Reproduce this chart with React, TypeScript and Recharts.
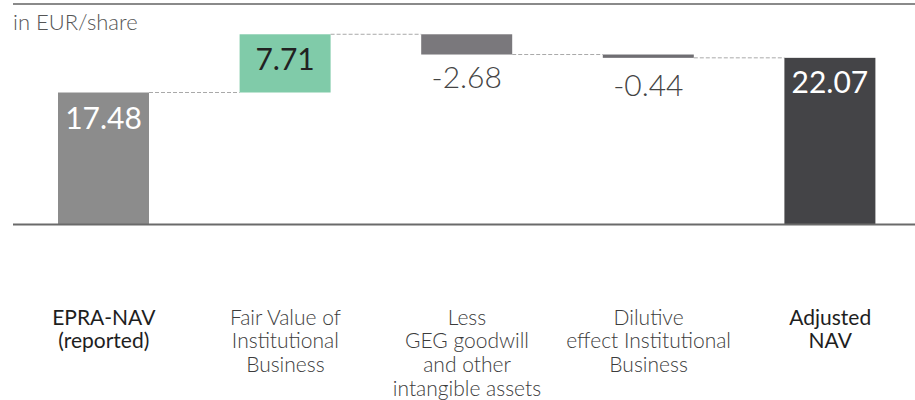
import React from 'react';
import { ComposedChart, Bar, XAxis, YAxis, ReferenceLine } from 'recharts';

const categories = [
  'EPRA-NAV (reported)',
  'Fair Value of Institutional Business',
  'Less GEG goodwill and other intangible assets',
  'Dilutive effect Institutional Business',
  'Adjusted NAV',
];
const tickLines = [
  ['EPRA-NAV', '(reported)'],
  ['Fair Value of', 'Institutional', 'Business'],
  ['Less', 'GEG goodwill', 'and other', 'intangible assets'],
  ['Dilutive', 'effect Institutional', 'Business'],
  ['Adjusted', 'NAV'],
];
const values = [17.48, 7.71, -2.68, -0.44, 22.07];
const isTotal = [true, false, false, false, true];
const valueLabels = ['17.48', '7.71', '-2.68', '-0.44', '22.07'];
const unitLabel = 'in EUR/share';

// styling
const barColors = ['#8c8c8c', '#80cba9', '#7a787c', '#6f6e72', '#444447'];
const labelColors = ['#ffffff', '#222222', '#444444', '#444444', '#ffffff'];
const labelWeights = [400, 400, 300, 300, 400];
const labelGap = [36, 36, 33, 38, 35];
const boldTick = [true, false, false, false, true];

const CHART_W = 921;
const CHART_H = 400;
const MARGIN = { top: 4, right: 0, bottom: 0, left: 13 };
const BAR_SIZE = 91;
const X_AXIS_H = 175.5;
const Y_MAX = 29.2;
const FONT = 'Lato, "Open Sans", sans-serif';

const rows = (() => {
  let running = 0;
  return values.map((v, i) => {
    let lo: number;
    let hi: number;
    let end: number;
    if (isTotal[i]) {
      lo = 0;
      hi = v;
      end = v;
    } else {
      const s = running;
      end = s + v;
      lo = Math.min(s, end);
      hi = Math.max(s, end);
    }
    running = end;
    return { name: categories[i], range: [lo, hi], idx: i };
  });
})();

const bandWidth = (CHART_W - MARGIN.left - MARGIN.right) / categories.length;
const connectorLen = bandWidth - BAR_SIZE;

const BarShape = (props: any) => {
  const { x, y, width, height, payload } = props;
  const i: number = payload.idx;
  const v = values[i];
  const top = y;
  const bottom = y + height;
  const endY = v >= 0 ? top : bottom;
  const cx = x + width / 2;
  const labelY = v >= 0 ? top + labelGap[i] : bottom + labelGap[i];
  return (
    <g>
      <rect x={x} y={y} width={width} height={Math.max(height, 0)} fill={barColors[i]} />
      {i < values.length - 1 && (
        <line
          x1={x + width}
          x2={x + width + connectorLen}
          y1={endY}
          y2={endY}
          stroke="#a9a9a9"
          strokeWidth={1}
          strokeDasharray="4 2"
        />
      )}
      <text
        x={cx}
        y={labelY}
        textAnchor="middle"
        fontFamily={FONT}
        fontSize={30}
        fontWeight={labelWeights[i]}
        fill={labelColors[i]}
      >
        {valueLabels[i]}
      </text>
    </g>
  );
};

const Tick = (props: any) => {
  const { x, y, index } = props;
  const lines = tickLines[index] || [];
  const bold = boldTick[index];
  return (
    <g>
      {lines.map((ln, k) => (
        <text
          key={k}
          x={x}
          y={y + 92 + k * 23.7}
          textAnchor="middle"
          fontFamily={FONT}
          fontSize={21}
          fontWeight={bold ? 400 : 300}
          fill={bold ? '#1e1e1e' : '#3c3c3c'}
        >
          {ln}
        </text>
      ))}
    </g>
  );
};

export default function App() {
  return (
    <div
      style={{
        position: 'absolute',
        left: 0,
        top: 0,
        width: 915,
        height: 400,
        overflow: 'hidden',
        background: '#fff',
      }}
    >
      <ComposedChart width={CHART_W} height={CHART_H} data={rows} margin={MARGIN}>
        <XAxis
          dataKey="name"
          height={X_AXIS_H}
          interval={0}
          tickLine={false}
          axisLine={{ stroke: '#6a6a6a', strokeWidth: 2 }}
          tick={<Tick />}
        />
        <YAxis hide domain={[0, Y_MAX]} allowDataOverflow />
        <ReferenceLine y={Y_MAX} stroke="#8a8a8a" strokeWidth={2} />
        <Bar dataKey="range" barSize={BAR_SIZE} shape={<BarShape />} isAnimationActive={false} />
      </ComposedChart>
      <svg
        width={200}
        height={40}
        style={{ position: 'absolute', left: 0, top: 0, overflow: 'visible' }}
      >
        <text x={13} y={30} fontFamily={FONT} fontSize={22} fontWeight={300} fill="#555">
          {unitLabel}
        </text>
      </svg>
    </div>
  );
}
